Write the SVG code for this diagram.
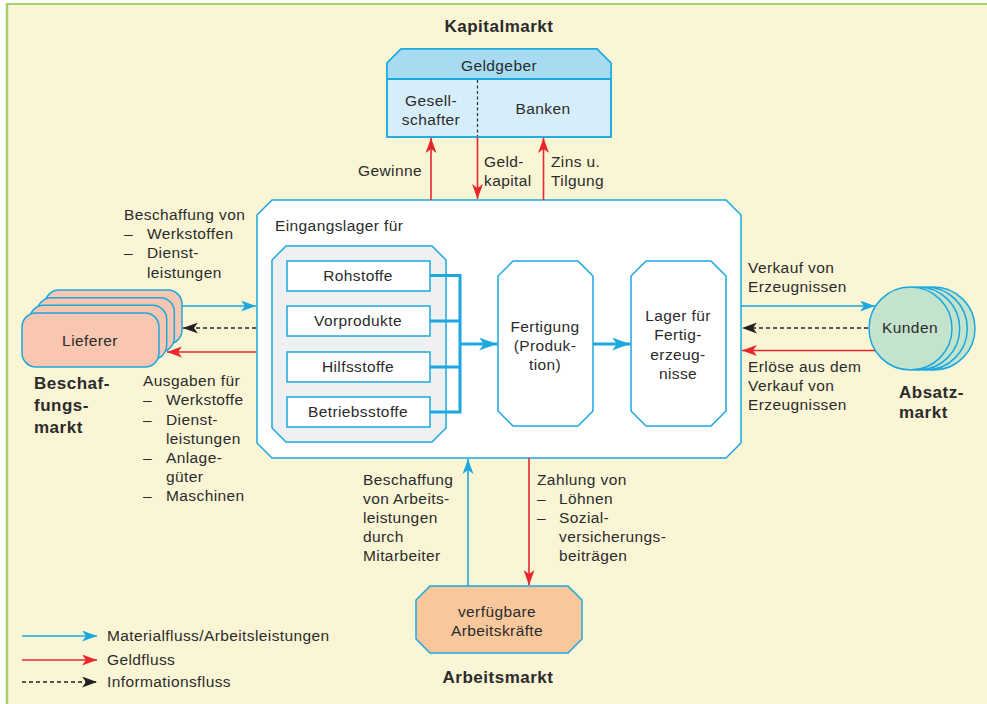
<svg xmlns="http://www.w3.org/2000/svg" width="987" height="704" viewBox="0 0 987 704">
<defs>
<style>
text{font-family:"Liberation Sans",Arial,sans-serif;font-size:15.5px;fill:#2b2b2b;letter-spacing:0.4px}
.b{font-weight:bold;font-size:17px;letter-spacing:0.5px}
.m{text-anchor:middle}
.e{text-anchor:end}
.node{stroke:#1ba8e0;stroke-width:1.5}
.bl{stroke:#1ba8e0;stroke-width:1.6;fill:none}
.bt{stroke:#1ba8e0;stroke-width:3;fill:none}
.rd{stroke:#e8262c;stroke-width:1.6;fill:none}
.ds{stroke:#222;stroke-width:1.3;stroke-dasharray:4 3;fill:none}
</style>
<marker id="ab" viewBox="0 0 15 11" refX="15" refY="5.5" markerWidth="15" markerHeight="11" markerUnits="userSpaceOnUse" orient="auto"><path d="M0,0 L15,5.5 L0,11 L4,5.5 z" fill="#1ba8e0"/></marker>
<marker id="abt" viewBox="0 0 18 13" refX="18" refY="6.5" markerWidth="18" markerHeight="13" markerUnits="userSpaceOnUse" orient="auto"><path d="M0,0 L18,6.5 L0,13 L5,6.5 z" fill="#1ba8e0"/></marker>
<marker id="ar" viewBox="0 0 15 11" refX="15" refY="5.5" markerWidth="15" markerHeight="11" markerUnits="userSpaceOnUse" orient="auto"><path d="M0,0 L15,5.5 L0,11 L4,5.5 z" fill="#e8262c"/></marker>
<marker id="ak" viewBox="0 0 15 11" refX="15" refY="5.5" markerWidth="15" markerHeight="11" markerUnits="userSpaceOnUse" orient="auto"><path d="M0,0 L15,5.5 L0,11 L4,5.5 z" fill="#222"/></marker>
</defs>

<rect x="0" y="0" width="987" height="704" fill="#ffffff"/>
<rect x="7" y="4" width="980" height="700" fill="#faf5d5"/>
<line x1="7" y1="4" x2="987" y2="4" stroke="#a6cf6b" stroke-width="2"/>
<line x1="7" y1="3" x2="7" y2="704" stroke="#a6cf6b" stroke-width="2.5"/>

<text class="b m" x="499" y="32">Kapitalmarkt</text>

<g id="geldgeber">
<polygon class="node" points="401,49 597,49 611,63 611,137 387,137 387,63" fill="#d5eefa"/>
<polygon points="401,49 597,49 611,63 611,79 387,79 387,63" fill="#a7dbf2" stroke="none"/>
<polygon class="node" points="401,49 597,49 611,63 611,137 387,137 387,63" fill="none"/>
<line x1="387" y1="79" x2="611" y2="79" stroke="#1ba8e0" stroke-width="1.8"/>
<line x1="477.5" y1="80" x2="477.5" y2="136" stroke="#333" stroke-width="1.2" stroke-dasharray="3 2.5"/>
<text class="m" x="499" y="71">Geldgeber</text>
<text class="m" x="431" y="106">Gesell-</text>
<text class="m" x="431" y="125">schafter</text>
<text class="m" x="543" y="114">Banken</text>
</g>

<g id="unternehmen">
<polygon class="node" points="272,200 726,200 741,215 741,443 726,458 272,458 257,443 257,215" fill="#ffffff"/>
<text x="275" y="231">Eingangslager für</text>
</g>

<g id="eingangslager">
<polygon class="node" points="286,246 432,246 446,260 446,428 432,442 286,442 272,428 272,260" fill="#eff0f2"/>
</g>
<g id="rohstoffe"><rect class="node" x="287" y="261" width="143" height="30" fill="#fff"/><text class="m" x="358" y="281">Rohstoffe</text></g>
<g id="vorprodukte"><rect class="node" x="287" y="306" width="143" height="30" fill="#fff"/><text class="m" x="358" y="326">Vorprodukte</text></g>
<g id="hilfsstoffe"><rect class="node" x="287" y="352" width="143" height="30" fill="#fff"/><text class="m" x="358" y="372">Hilfsstoffe</text></g>
<g id="betriebsstoffe"><rect class="node" x="287" y="397" width="143" height="30" fill="#fff"/><text class="m" x="358" y="417">Betriebsstoffe</text></g>

<g id="fertigung">
<polygon class="node" points="513,261 578,261 593,276 593,411 578,426 513,426 498,411 498,276" fill="#fff"/>
<text class="m" x="545" y="332">Fertigung</text>
<text class="m" x="545" y="351">(Produk-</text>
<text class="m" x="545" y="370">tion)</text>
</g>

<g id="lager">
<polygon class="node" points="646,261 711,261 726,276 726,411 711,426 646,426 631,411 631,276" fill="#fff"/>
<text class="m" x="678" y="321">Lager für</text>
<text class="m" x="678" y="340">Fertig-</text>
<text class="m" x="678" y="360">erzeug-</text>
<text class="m" x="678" y="379">nisse</text>
</g>

<g id="lieferer">
<rect class="node" x="45" y="290" width="137" height="54" rx="14" fill="#f9c6b2"/>
<rect class="node" x="37.3" y="297.7" width="137" height="54" rx="14" fill="#f9c6b2"/>
<rect class="node" x="29.7" y="305.3" width="137" height="54" rx="14" fill="#f9c6b2"/>
<rect class="node" x="22" y="313" width="137" height="54" rx="14" fill="#f9c6b2"/>
<text class="m" x="90" y="346">Lieferer</text>
</g>

<g id="kunden">
<circle class="node" cx="933.5" cy="328.5" r="41.5" fill="#c3e3cc"/>
<circle class="node" cx="925.8" cy="328.5" r="41.5" fill="#c3e3cc"/>
<circle class="node" cx="918.2" cy="328.5" r="41.5" fill="#c3e3cc"/>
<circle class="node" cx="910.5" cy="328.5" r="41.5" fill="#c3e3cc"/>
<text class="m" x="910" y="333">Kunden</text>
</g>

<g id="arbeitskraefte">
<polygon class="node" points="430,586 568,586 582,600 582,639 568,653 430,653 416,639 416,600" fill="#f8c79b"/>
<text class="m" x="497" y="617">verfügbare</text>
<text class="m" x="497" y="636">Arbeitskräfte</text>
</g>

<g id="connectors">
<line class="rd" x1="431" y1="200" x2="431" y2="138" marker-end="url(#ar)"/>
<line class="rd" x1="477.5" y1="137" x2="477.5" y2="199" marker-end="url(#ar)"/>
<line class="rd" x1="543.5" y1="200" x2="543.5" y2="138" marker-end="url(#ar)"/>

<polyline class="bt" points="430,275.5 460,275.5 460,412 430,412"/>
<line class="bt" x1="430" y1="321" x2="460" y2="321"/>
<line class="bt" x1="430" y1="367" x2="460" y2="367"/>
<line class="bt" x1="460" y1="344" x2="497" y2="344" marker-end="url(#abt)"/>
<line class="bt" x1="593" y1="344" x2="630" y2="344" marker-end="url(#abt)"/>

<line class="bl" x1="182" y1="306" x2="256" y2="306" marker-end="url(#ab)"/>
<line class="ds" x1="256" y1="328" x2="183" y2="328" marker-end="url(#ak)"/>
<line class="rd" x1="256" y1="352" x2="167" y2="352" marker-end="url(#ar)"/>

<line class="bl" x1="741" y1="306" x2="875" y2="306" marker-end="url(#ab)"/>
<line class="ds" x1="868" y1="328" x2="742" y2="328" marker-end="url(#ak)"/>
<line class="rd" x1="875" y1="350.5" x2="742" y2="350.5" marker-end="url(#ar)"/>

<line class="bl" x1="468" y1="586" x2="468" y2="459" marker-end="url(#ab)"/>
<line class="rd" x1="529" y1="458" x2="529" y2="585" marker-end="url(#ar)"/>

<line class="bl" x1="22" y1="636" x2="97" y2="636" marker-end="url(#ab)"/>
<line class="rd" x1="22" y1="660" x2="97" y2="660" marker-end="url(#ar)"/>
<line class="ds" x1="22" y1="682" x2="97" y2="682" marker-end="url(#ak)"/>
</g>

<g id="labels">
<text class="e" x="422" y="176">Gewinne</text>
<text x="484" y="167">Geld-</text>
<text x="484" y="186">kapital</text>
<text x="551" y="167">Zins u.</text>
<text x="551" y="186">Tilgung</text>

<text x="124" y="220">Beschaffung von</text>
<text x="124" y="239">–</text><text x="147" y="239">Werkstoffen</text>
<text x="124" y="258">–</text><text x="147" y="258">Dienst-</text>
<text x="147" y="278">leistungen</text>

<text class="b" x="34" y="389">Beschaf-</text>
<text class="b" x="34" y="411">fungs-</text>
<text class="b" x="34" y="433">markt</text>

<text x="143" y="386">Ausgaben für</text>
<text x="143" y="405">–</text><text x="166" y="405">Werkstoffe</text>
<text x="143" y="425">–</text><text x="166" y="425">Dienst-</text>
<text x="166" y="444">leistungen</text>
<text x="143" y="463">–</text><text x="166" y="463">Anlage-</text>
<text x="166" y="482">güter</text>
<text x="143" y="501">–</text><text x="166" y="501">Maschinen</text>

<text x="748" y="273">Verkauf von</text>
<text x="748" y="292">Erzeugnissen</text>
<text x="748" y="372">Erlöse aus dem</text>
<text x="748" y="391">Verkauf von</text>
<text x="748" y="410">Erzeugnissen</text>

<text class="b" x="899" y="398">Absatz-</text>
<text class="b" x="899" y="418">markt</text>

<text x="363" y="485">Beschaffung</text>
<text x="363" y="504">von Arbeits-</text>
<text x="363" y="523">leistungen</text>
<text x="363" y="542">durch</text>
<text x="363" y="561">Mitarbeiter</text>

<text x="537" y="485">Zahlung von</text>
<text x="537" y="504">–</text><text x="559" y="504">Löhnen</text>
<text x="537" y="523">–</text><text x="559" y="523">Sozial-</text>
<text x="559" y="542">versicherungs-</text>
<text x="559" y="561">beiträgen</text>

<text class="b m" x="498" y="683">Arbeitsmarkt</text>

<text x="107" y="641">Materialfluss/Arbeitsleistungen</text>
<text x="107" y="665">Geldfluss</text>
<text x="107" y="687">Informationsfluss</text>
</g>
</svg>
